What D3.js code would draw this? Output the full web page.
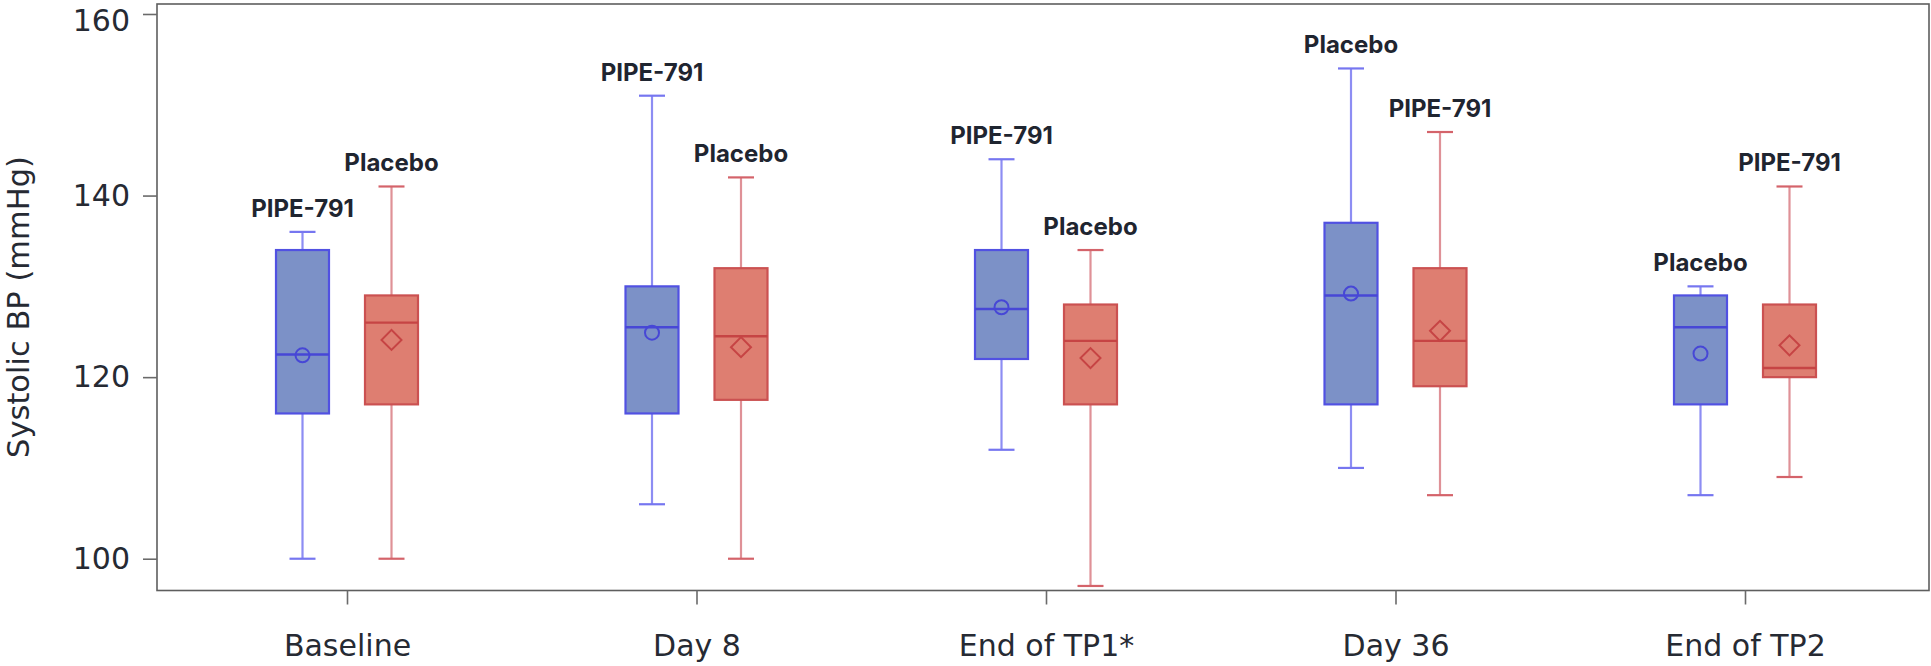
<!DOCTYPE html>
<html>
<head>
<meta charset="utf-8">
<script src="https://cdn.jsdelivr.net/npm/d3@7"></script>
<style>
  html, body { margin: 0; padding: 0; background: #ffffff; }
  svg { display: block; }
</style>
</head>
<body>
<svg id="chart" width="1931" height="666"></svg>
<script>
// ---- data ----
const categories = ["Baseline", "Day 8", "End of TP1*", "Day 36", "End of TP2"];
const yTicks = [100, 120, 140, 160];
const yLabel = "Systolic BP (mmHg)";

// first (blue) box in each group
const boxLabelsA = ["PIPE-791", "PIPE-791", "PIPE-791", "Placebo", "Placebo"];
const minA  = [100, 106, 112, 110, 107];
const q1A   = [116, 116, 122, 117, 117];
const medA  = [122.5, 125.5, 127.5, 129, 125.5];
const q3A   = [134, 130, 134, 137, 129];
const maxA  = [136, 151, 144, 154, 130];
const meanA = [122.4, 124.9, 127.7, 129.2, 122.6];

// second (red) box in each group
const boxLabelsB = ["Placebo", "Placebo", "Placebo", "PIPE-791", "PIPE-791"];
const minB  = [100, 100, 97, 107, 109];
const q1B   = [117, 117.5, 117, 119, 120];
const medB  = [126, 124.5, 124, 124, 121];
const q3B   = [129, 132, 128, 132, 128];
const maxB  = [141, 142, 134, 147, 141];
const meanB = [124.1, 123.3, 122.1, 125.1, 123.5];

// ---- layout ----
const frame = { left: 157, right: 1929, top: 4, bottom: 590.5 };
const svg = d3.select("#chart");

const y = d3.scaleLinear().domain([96.5, 161.1]).range([frame.bottom, frame.top]);
const x = d3.scalePoint().domain(categories).range([347, 1745]);
const sub = d3.scalePoint().domain(["A", "B"]).range([-44.5, 44.5]);
const boxW = 53, capW = 26;

const styles = {
  A: { fill: "#7c91c7", stroke: "#5151e2", median: "#4747d6", whisker: "#8d8df3", cap: "#7676f0", marker: "circle" },
  B: { fill: "#de7e71", stroke: "#cb5151", median: "#c64444", whisker: "#df9197", cap: "#d4636a", marker: "diamond" }
};

const rows = [];
categories.forEach((c, i) => {
  rows.push({ cat: c, g: "A", label: boxLabelsA[i], min: minA[i], q1: q1A[i], med: medA[i], q3: q3A[i], max: maxA[i], mean: meanA[i] });
  rows.push({ cat: c, g: "B", label: boxLabelsB[i], min: minB[i], q1: q1B[i], med: medB[i], q3: q3B[i], max: maxB[i], mean: meanB[i] });
});

// frame
svg.append("rect")
  .attr("x", frame.left).attr("y", frame.top)
  .attr("width", frame.right - frame.left).attr("height", frame.bottom - frame.top)
  .attr("fill", "none").attr("stroke", "#5e5e5e").attr("stroke-width", 1.6);

// y axis
const yAxis = svg.append("g")
  .attr("transform", `translate(${frame.left},0)`)
  .call(d3.axisLeft(y).tickValues(yTicks).tickSize(14).tickPadding(13).tickFormat(d3.format("d")));
yAxis.select(".domain").remove();
yAxis.selectAll(".tick line").attr("stroke", "#6a6a6a").attr("stroke-width", 1.6);
yAxis.selectAll(".tick text")
  .attr("fill", "#262a33")
  .style("font-family", "'DejaVu Sans', sans-serif")
  .style("font-size", "30px")
  .attr("y", d => d === yTicks[yTicks.length - 1] ? 6.5 : 0);

// x axis
const xAxis = svg.append("g")
  .attr("transform", `translate(0,${frame.bottom})`)
  .call(d3.axisBottom(x).tickSize(14).tickPadding(30));
xAxis.select(".domain").remove();
xAxis.selectAll(".tick line").attr("stroke", "#6a6a6a").attr("stroke-width", 1.6);
xAxis.selectAll(".tick text")
  .attr("fill", "#262a33")
  .style("font-family", "'DejaVu Sans', sans-serif")
  .style("font-size", "30px");

// y label
svg.append("text")
  .attr("transform", `translate(29,307) rotate(-90)`)
  .attr("text-anchor", "middle")
  .attr("fill", "#262a33")
  .style("font-family", "'DejaVu Sans', sans-serif")
  .style("font-size", "30.5px")
  .text(yLabel);

// boxes
const gBox = svg.append("g");
rows.forEach(d => {
  const s = styles[d.g];
  const cx = x(d.cat) + sub(d.g);
  const g = gBox.append("g");
  // whiskers
  g.append("line").attr("x1", cx).attr("x2", cx).attr("y1", y(d.max)).attr("y2", y(d.q3))
    .attr("stroke", s.whisker).attr("stroke-width", 2.2);
  g.append("line").attr("x1", cx).attr("x2", cx).attr("y1", y(d.q1)).attr("y2", y(d.min))
    .attr("stroke", s.whisker).attr("stroke-width", 2.2);
  g.append("line").attr("x1", cx - capW / 2).attr("x2", cx + capW / 2).attr("y1", y(d.max)).attr("y2", y(d.max))
    .attr("stroke", s.cap).attr("stroke-width", 2.2);
  g.append("line").attr("x1", cx - capW / 2).attr("x2", cx + capW / 2).attr("y1", y(d.min)).attr("y2", y(d.min))
    .attr("stroke", s.cap).attr("stroke-width", 2.2);
  // box
  g.append("rect").attr("x", cx - boxW / 2).attr("y", y(d.q3))
    .attr("width", boxW).attr("height", y(d.q1) - y(d.q3))
    .attr("fill", s.fill).attr("stroke", s.stroke).attr("stroke-width", 2.2);
  // median
  g.append("line").attr("x1", cx - boxW / 2).attr("x2", cx + boxW / 2).attr("y1", y(d.med)).attr("y2", y(d.med))
    .attr("stroke", s.median).attr("stroke-width", 2.4);
  // mean marker
  if (s.marker === "circle") {
    g.append("circle").attr("cx", cx).attr("cy", y(d.mean)).attr("r", 7)
      .attr("fill", "none").attr("stroke", s.median).attr("stroke-width", 2);
  } else {
    g.append("path").attr("d", d3.symbol().type(d3.symbolSquare).size(200)())
      .attr("transform", `translate(${cx},${y(d.mean)}) rotate(45)`)
      .attr("fill", "none").attr("stroke", s.median).attr("stroke-width", 2);
  }
  // label
  g.append("text").attr("x", cx).attr("y", y(d.max) - 15)
    .attr("text-anchor", "middle")
    .attr("fill", "#1f2530")
    .style("font-family", "Inter, 'DejaVu Sans', sans-serif")
    .style("font-weight", "700")
    .style("font-size", "24px")
    .text(d.label);
});
</script>
</body>
</html>
